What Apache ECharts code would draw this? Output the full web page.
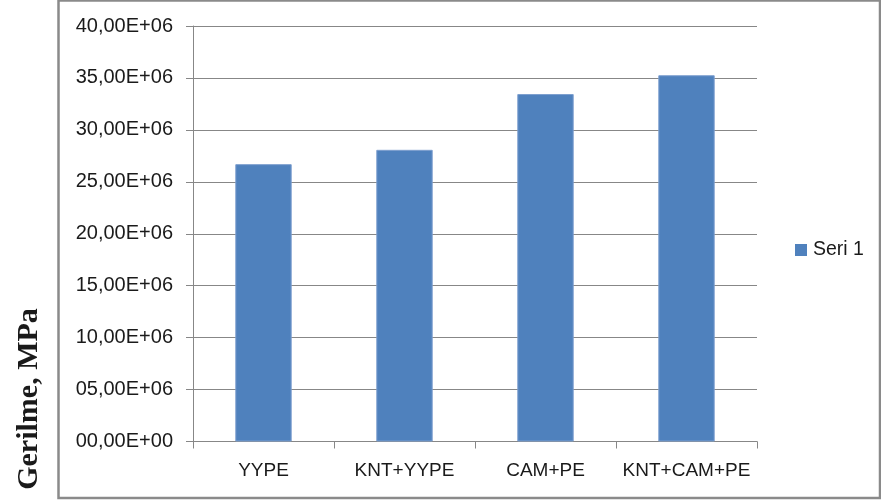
<!DOCTYPE html>
<html>
<head>
<meta charset="utf-8">
<script src="https://cdn.jsdelivr.net/npm/echarts@6/dist/echarts.min.js"></script>
<style>
html,body{margin:0;padding:0;background:#fff;}
#c{width:881px;height:504px;}
</style>
</head>
<body>
<div id="c"></div>
<script>
const categories = ['YYPE', 'KNT+YYPE', 'CAM+PE', 'KNT+CAM+PE'];
const seri1 = [26.7e6, 28.08e6, 33.45e6, 35.26e6];
const yTickLabels = ['00,00E+00', '05,00E+06', '10,00E+06', '15,00E+06', '20,00E+06', '25,00E+06', '30,00E+06', '35,00E+06', '40,00E+06'];
const seriesName = 'Seri 1';
const axisTitle = 'Gerilme, MPa';

const chart = echarts.init(document.getElementById('c'), null, {renderer: 'canvas'});
const font = 'Liberation Sans';
chart.setOption({
  backgroundColor: '#fff',
  animation: false,
  grid: {left: 193, top: 26, right: 124, bottom: 62.5, containLabel: false},
  legend: {
    data: [seriesName],
    left: 795, top: 240,
    padding: 0,
    itemWidth: 12, itemHeight: 12,
    icon: 'rect',
    itemStyle: {borderWidth: 0},
    textStyle: {fontFamily: font, fontSize: 19.5, color: '#1a1a1a', padding: [0, 0, 0, 1]}
  },
  xAxis: {
    type: 'category',
    data: categories,
    boundaryGap: true,
    axisLine: {lineStyle: {color: '#878787', width: 1}},
    axisTick: {show: true, alignWithLabel: false, length: 7, lineStyle: {color: '#878787'}},
    axisLabel: {interval: 0, fontFamily: font, fontSize: 19, color: '#1a1a1a', margin: 20}
  },
  yAxis: {
    type: 'value',
    min: 0, max: 40e6, interval: 5e6,
    axisLine: {show: true, lineStyle: {color: '#878787', width: 1}},
    axisTick: {show: true, length: 7, lineStyle: {color: '#878787'}},
    splitLine: {show: true, lineStyle: {color: '#878787', width: 1}},
    axisLabel: {
      fontFamily: font, fontSize: 20, color: '#1a1a1a', margin: 20,
      formatter: v => yTickLabels[Math.round(v / 5e6)]
    }
  },
  series: [{
    name: seriesName,
    type: 'bar',
    data: seri1,
    barCategoryGap: '60%',
    itemStyle: {color: '#4f81bd', borderColor: '#7d9fcf', borderWidth: 1}
  }],
  graphic: [
    {
      type: 'rect',
      shape: {x: 58.5, y: 0.5, width: 821.5, height: 497.5},
      style: {fill: 'none', stroke: '#8a8a8a', lineWidth: 2.5},
      silent: true
    },
    {
      type: 'text',
      x: 29, y: 399,
      rotation: Math.PI / 2,
      style: {
        text: axisTitle,
        fontFamily: 'Liberation Serif',
        fontWeight: 'bold',
        fontSize: 30,
        fill: '#1a1a1a',
        textAlign: 'center',
        textVerticalAlign: 'middle'
      }
    }
  ]
});
</script>
</body>
</html>
